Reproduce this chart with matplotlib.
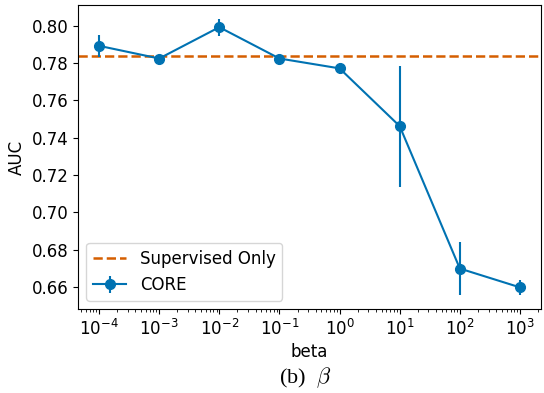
import numpy as np
import matplotlib.pyplot as plt

# values
beta = [1e-4, 1e-3, 1e-2, 1e-1, 1e0, 1e1, 1e2, 1e3]
auc = [0.7893, 0.7825, 0.7993, 0.7825, 0.7772, 0.7462, 0.6698, 0.6597]
auc_err = [0.0060, 0.0010, 0.0045, 0.0010, 0.0030, 0.0325, 0.0143, 0.0040]
supervised_only = 0.7838

blue = '#0072B2'
orange = '#D55E00'

plt.rcParams['font.size'] = 12
plt.rcParams['mathtext.fontset'] = 'cm'

fig = plt.figure(figsize=(5.44, 3.93), dpi=100)
ax = fig.add_axes([0.1434, 0.2137, 0.8511, 0.7736])

ax.axhline(supervised_only, color=orange, linestyle='--', linewidth=1.8, label='Supervised Only')
ax.errorbar(beta, auc, yerr=auc_err, color=blue, marker='o', markersize=7,
            linewidth=1.5, elinewidth=1.5, label='CORE')
ax.set_xscale('log')
ax.set_xticks(beta)
ax.set_yticks(np.arange(0.66, 0.81, 0.02))
ax.set_xlabel('beta', labelpad=3)
ax.set_ylabel('AUC')
ax.legend(loc='lower left')

fig.text(0.56, 0.025, r'(b)  $\beta$', ha='center', va='baseline',
         fontsize=16, family='Liberation Serif')

fig.savefig('out.png', dpi=100)
